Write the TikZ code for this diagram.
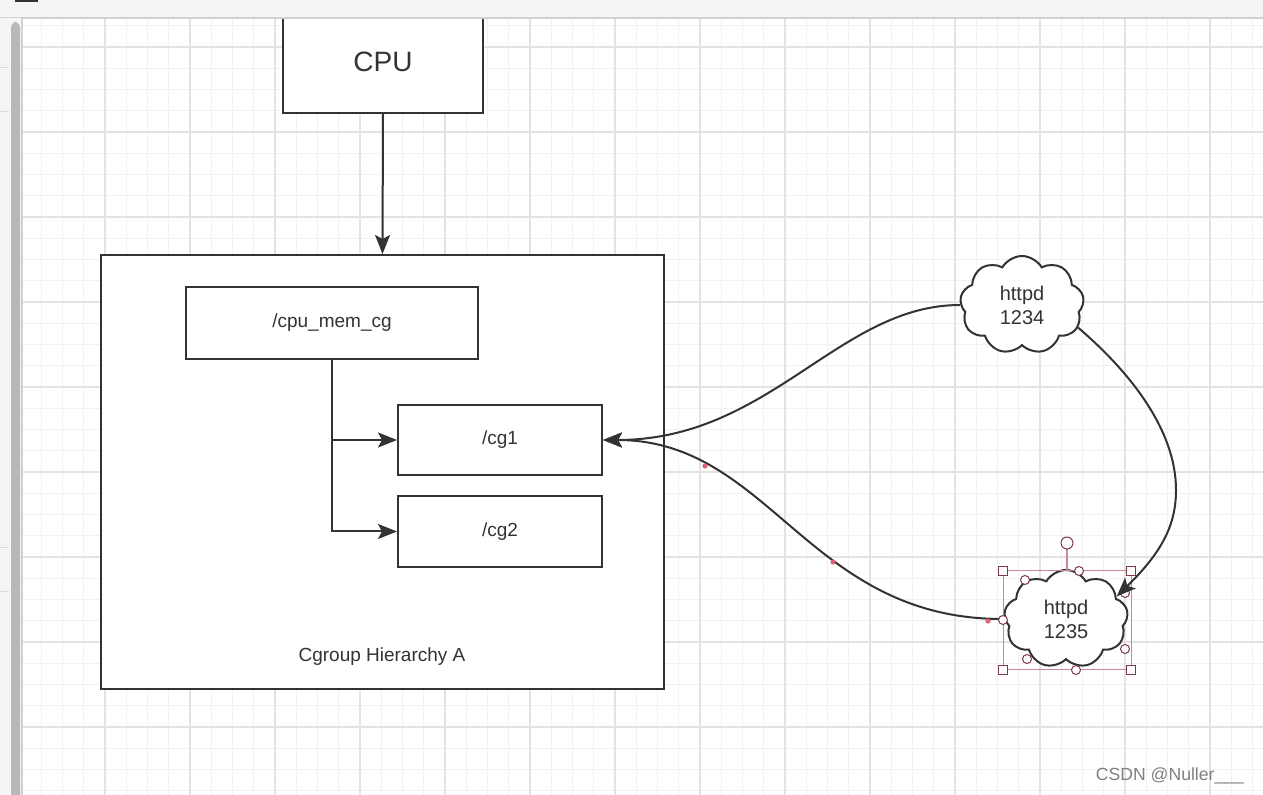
\documentclass[tikz,border=0pt]{standalone}
\usepackage{fontspec}
\setmainfont{Liberation Sans}
\usepackage{xcolor}
\usepackage{tikz}
\usetikzlibrary{shapes,shapes.symbols,arrows.meta,positioning,calc}

\definecolor{ink}{HTML}{333333}
\definecolor{gridminor}{HTML}{F1F1F1}
\definecolor{gridmajor}{HTML}{E3E3E3}
\definecolor{selframe}{HTML}{C48A96}
\definecolor{selhandle}{HTML}{7E3A46}
\definecolor{waypt}{HTML}{E0607A}

\begin{document}
\begin{tikzpicture}[
    x=0.5pt, y=-0.5pt,
    box/.style={rectangle, draw=ink, line width=1pt, fill=white, text=ink,
                align=center, inner sep=0pt, font=\fontsize{9.5}{11}\selectfont},
    arr/.style={-{Stealth[length=9.5pt, width=7.5pt, inset=2pt]}, draw=ink, line width=1pt},
    cloudnode/.style={cloud, cloud puffs=9, cloud puff arc=120, draw=ink, line width=1pt,
                fill=white, text=ink, align=center, inner sep=0pt,
                minimum width=62pt, minimum height=49pt,
                font=\fontsize{10}{12}\selectfont},
    sqhdl/.style={rectangle, draw=selhandle, fill=white, line width=0.5pt,
                minimum size=4.5pt, inner sep=0pt},
    cirhdl/.style={circle, draw=selhandle, fill=white, line width=0.5pt,
                minimum size=4.5pt, inner sep=0pt},
  ]
  \useasboundingbox (0,0) rectangle (1263,795);
  \fill[white] (0,0) rectangle (1263,795);

  % Grid
  \begin{scope}
    \clip (22,18) rectangle (1263,795);
    \foreach \i in {0,...,59}
      \draw[gridminor, line width=0.6pt] (20+21.25*\i,18) -- (20+21.25*\i,795);
    \foreach \j in {-1,...,36}
      \draw[gridminor, line width=0.6pt] (22,47+21.25*\j) -- (1263,47+21.25*\j);
    \foreach \i in {0,...,14}
      \draw[gridmajor, line width=0.7pt] (20+85*\i,18) -- (20+85*\i,795);
    \foreach \j in {0,...,8}
      \draw[gridmajor, line width=0.7pt] (22,47+85*\j) -- (1263,47+85*\j);
  \end{scope}

  % CPU
  \node[box, minimum width=100pt, minimum height=51pt, font=\fontsize{14}{16}\selectfont]
    (cpu) at (383,62) {CPU};

  % Cgroup hierarchy
  \node[box, minimum width=281.5pt, minimum height=217pt] (hier) at (382.5,472) {};
  \node[text=ink, font=\fontsize{9.5}{11}\selectfont] (hierlbl) at (382,657) {Cgroup Hierarchy A};

  \node[box, minimum width=146pt, minimum height=36pt] (cpumem) at (332,323) {/cpu\_mem\_cg};
  \node[box, minimum width=102pt, minimum height=35pt] (cgone) at (500,440) {/cg1};
  \node[box, minimum width=102pt, minimum height=35.5pt] (cgtwo) at (500,531.5) {/cg2};

  \draw[arr] (cpu.south) -- (hier.north);
  \draw[arr] (cpumem.south) |- (cgone.west);
  \draw[arr] (cpumem.south) |- (cgtwo.west);

  % httpd processes
  \node[cloudnode] (httpda) at (1022,305) {httpd\\1234};
  \node[cloudnode] (httpdb) at (1066,619) {httpd\\1235};

  \draw[arr] (httpda.west) .. controls (839,305) and (770,440) .. (cgone.east);
  \draw[arr] (httpdb.west) .. controls (808,620) and (771,440) .. (cgone.east);

  % waypoints on the selected edge
  \foreach \p in {(705,466),(833,562),(988,621)}
    \fill[waypt] \p circle (1.3pt);

  % selection handles
  \draw[selframe, line width=0.5pt] (1003,571) rectangle (1131,670);
  \draw[selframe, line width=0.6pt] (1067,549) -- (1067,571);
  \node[cirhdl, minimum size=6pt] (rot) at (1067,543) {};
  \foreach \p in {(1003,571),(1131,571),(1003,670),(1131,670)}
    \node[sqhdl] at \p {};
  \foreach \p in {(1025,580),(1079,571),(1125,593),(1003,620),(1027,659),(1076,670),(1125,649)}
    \node[cirhdl] at \p {};

  \draw[arr] (httpda.-22) .. controls (1130,372) and (1176,430) .. (1176,490)
                          .. controls (1176,525) and (1162,552) .. (httpdb.24);

  % editor frame
  \fill[black!4] (0,0) rectangle (1263,18);
  \draw[black!18, line width=0.6pt] (0,18) -- (1263,18);
  \fill[ink] (15,0) rectangle (38,2.5);
  \fill[black!4] (0,18) rectangle (22,795);
  \fill[black!28, rounded corners=3pt] (11,22) rectangle (20,800);
  \draw[black!18, line width=0.6pt] (22,18) -- (22,795);
  \foreach \yy in {68,112,548,592}
    \draw[black!15, line width=0.5pt] (0,\yy) -- (9,\yy);

  % watermark
  \node[text=black!50, font=\fontsize{8.8}{11}\selectfont, anchor=east] (wm) at (1251,776) {CSDN @Nuller\_\_\_};
\end{tikzpicture}
\end{document}
